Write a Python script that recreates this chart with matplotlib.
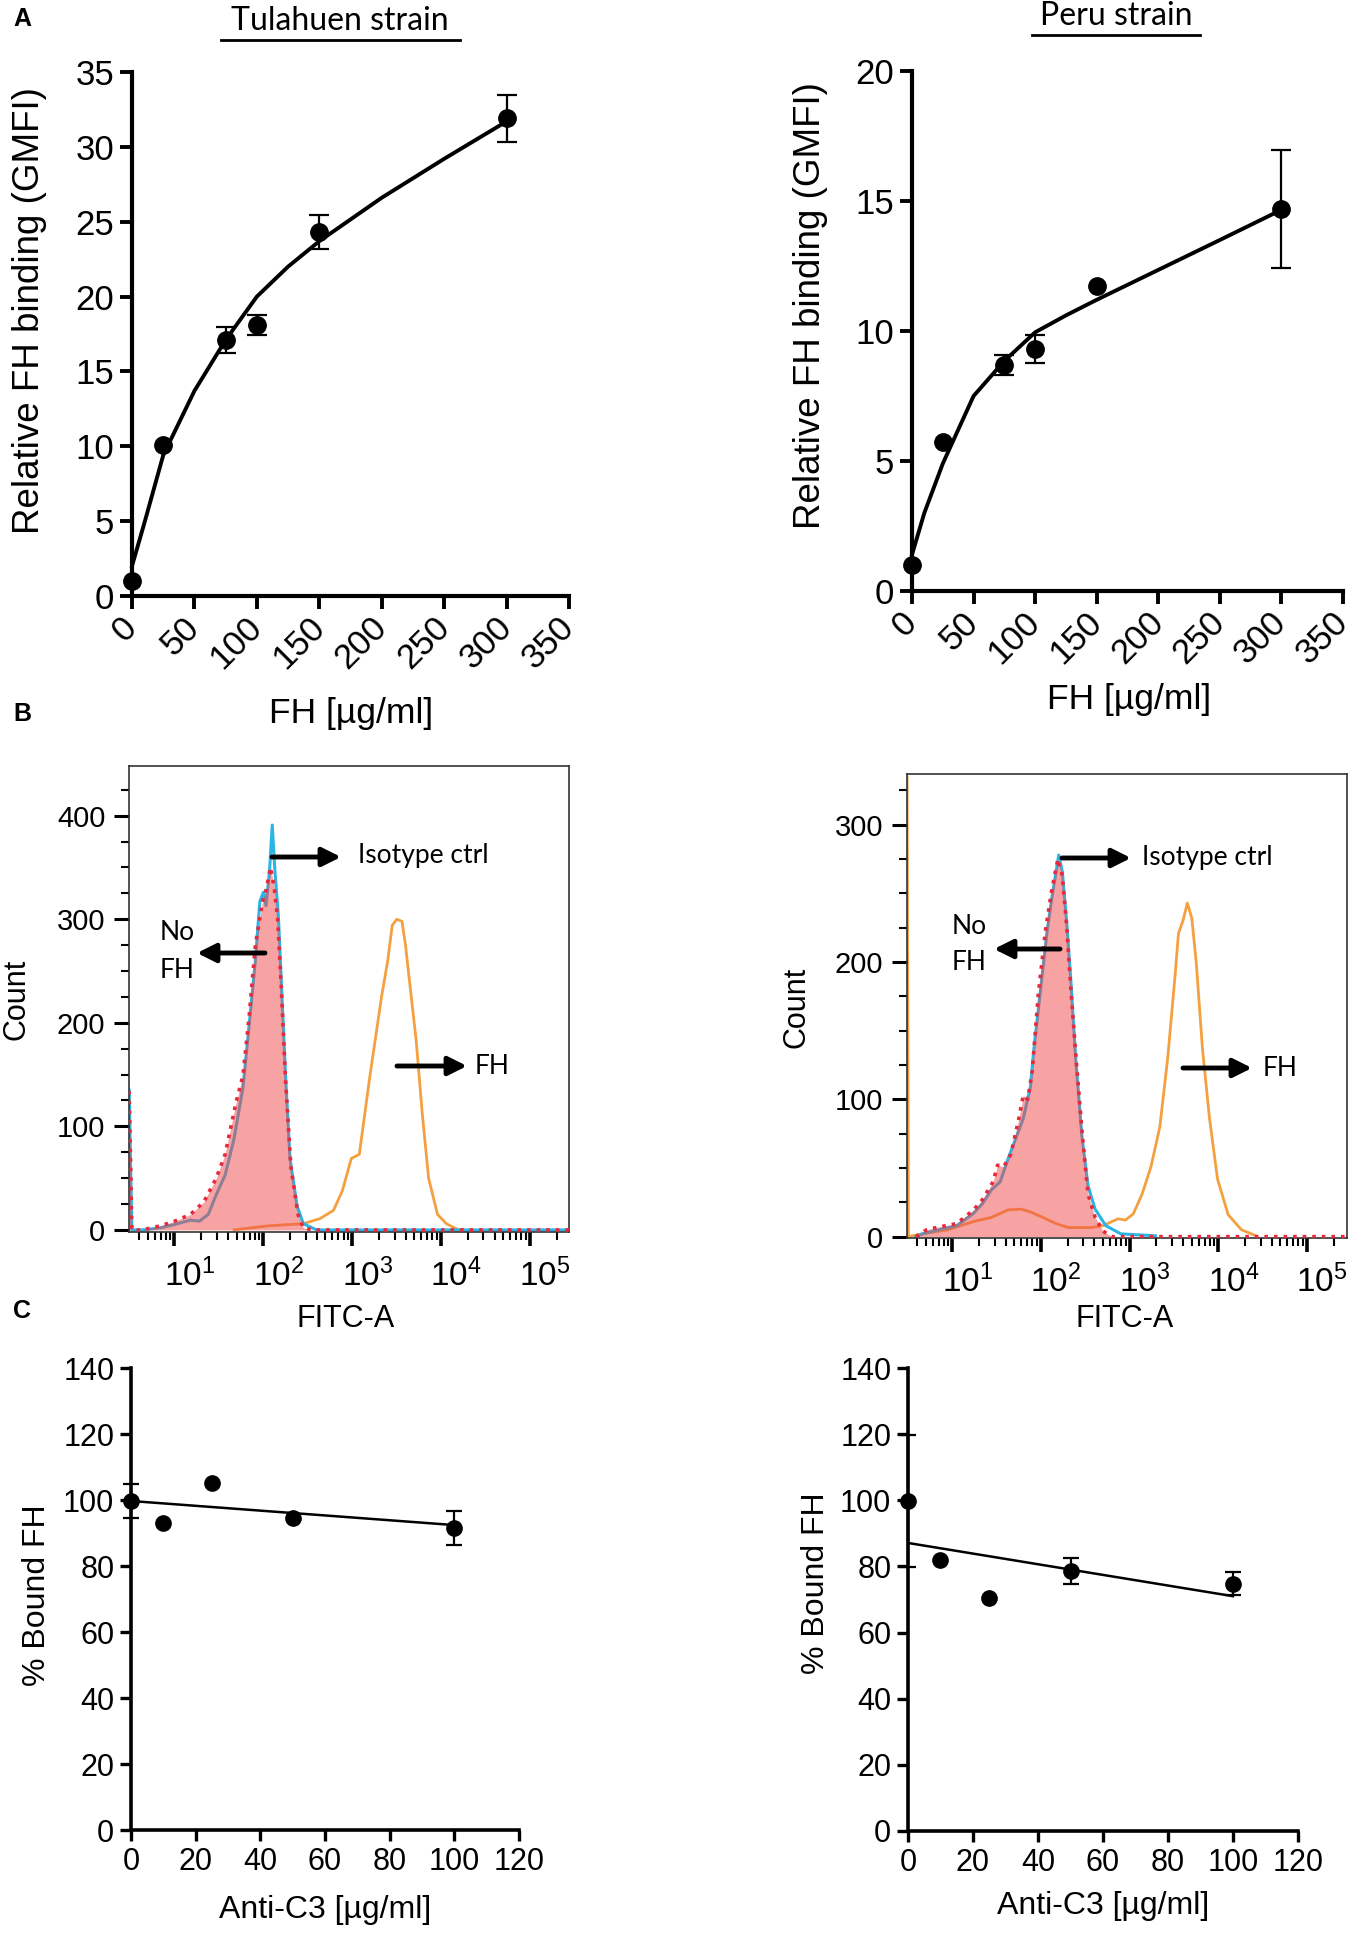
import matplotlib
matplotlib.use("Agg")
import matplotlib.pyplot as plt
from matplotlib.lines import Line2D
from matplotlib.ticker import LogLocator, MultipleLocator, NullFormatter
from matplotlib.transforms import ScaledTranslation
import numpy as np

plt.rcParams['font.family'] = ['Liberation Sans', 'DejaVu Sans']
plt.rcParams['mathtext.fontset'] = 'custom'
plt.rcParams['mathtext.rm'] = 'Liberation Sans'

W, H = 1358, 1937

# --- panel A: FH binding vs FH concentration ---
fh_conc = [0, 25, 75, 100, 150, 300]
tula_gmfi = [1.0, 10.1, 17.1, 18.1, 24.3, 31.9]
tula_gmfi_err = [0, 0, 0.85, 0.68, 1.15, 1.55]
peru_gmfi = [1.0, 5.75, 8.7, 9.3, 11.75, 14.7]
peru_gmfi_err = [0, 0, 0.38, 0.53, 0, 2.26]

fit_x = [0, 10, 25, 50, 75, 100, 125, 150, 200, 250, 300]
tula_fit = [2.0, 4.9, 9.4, 13.7, 17.1, 20.0, 22.0, 23.7, 26.6, 29.2, 31.7]
peru_fit = [1.4, 3.0, 4.9, 7.5, 8.85, 9.95, 10.6, 11.2, 12.35, 13.5, 14.66]

# --- panel B: flow cytometry histograms (log10 FITC-A, count) ---
tul_iso_lx = [0.49, 0.52, 0.64, 0.84, 0.99, 1.18, 1.28, 1.38, 1.47, 1.57, 1.67, 1.77,
              1.84, 1.91, 1.96, 2.00, 2.03, 2.07, 2.10, 2.13, 2.17, 2.20, 2.25, 2.30,
              2.38, 2.45, 2.60, 5.44]
tul_iso_count = [135, 0, 0, 2, 5, 9.5, 8.4, 15, 34, 53, 88, 137, 198, 260, 317, 326,
                 313, 347, 391, 347, 302, 244, 149, 69, 23, 6, 0, 0]
tul_nofh_lx = [0.49, 0.52, 0.64, 0.84, 0.99, 1.18, 1.33, 1.47, 1.57, 1.69, 1.77, 1.84,
               1.91, 1.99, 2.03, 2.08, 2.12, 2.16, 2.20, 2.25, 2.31, 2.39, 2.45, 2.55, 5.44]
tul_nofh_count = [134, 0, 0, 4, 8, 15, 27, 50, 73, 122, 149, 206, 275, 317, 328, 350,
                  332, 302, 237, 145, 61, 15, 2, 0, 0]
tul_fh_lx = [1.67, 2.06, 2.45, 2.64, 2.79, 2.89, 2.99, 3.08, 3.20, 3.33, 3.40, 3.45,
             3.50, 3.56, 3.60, 3.64, 3.72, 3.79, 3.86, 3.96, 4.06, 4.20]
tul_fh_count = [0, 4, 6, 11, 19, 38, 69, 73, 149, 225, 260, 294, 300, 298, 275, 244,
                183, 111, 50, 15, 6, 0]

peru_iso_lx = [0.59, 0.66, 0.85, 1.05, 1.24, 1.34, 1.44, 1.54, 1.63, 1.73, 1.80, 1.88,
               1.92, 2.00, 2.07, 2.12, 2.17, 2.20, 2.24, 2.29, 2.34, 2.39, 2.46, 2.53,
               2.61, 2.73, 2.90, 3.29]
peru_iso_count = [0, 2, 5, 8, 17, 24, 34, 40, 57, 74, 86, 109, 137, 183, 223, 246, 266,
                  278, 266, 229, 183, 131, 74, 37, 20, 8, 2, 0.6]
peru_nofh_lx = [0.59, 0.71, 0.85, 1.05, 1.24, 1.34, 1.46, 1.51, 1.58, 1.66, 1.75, 1.80,
                1.85, 1.90, 1.97, 2.05, 2.12, 2.19, 2.24, 2.29, 2.34, 2.40, 2.47, 2.53,
                2.61, 2.70, 2.80, 5.45]
peru_nofh_count = [0, 5, 7, 9.5, 19.5, 27, 40, 52, 51, 60, 86, 103, 100, 120, 177, 223,
                   252, 275, 263, 226, 177, 126, 71, 31, 14, 4, 0, 0]
peru_fh_lx = [0.49, 0.505, 0.66, 0.95, 1.24, 1.44, 1.63, 1.78, 1.88, 2.02, 2.17, 2.31,
              2.56, 2.70, 2.80, 2.87, 2.95, 3.04, 3.14, 3.24, 3.34, 3.43, 3.51, 3.55,
              3.60, 3.65, 3.70, 3.75, 3.82, 3.90, 3.99, 4.11, 4.26, 4.41]
peru_fh_count = [335, 0, 2, 5, 11, 14, 19.5, 20, 18, 14, 9.5, 6.6, 6.6, 8, 11, 13, 12,
                 16.5, 31, 51, 80, 131, 189, 221, 230, 243, 232, 200, 137, 86, 42, 16, 5, 1]
decade_labels = ['10', '10', '10', '10', '10']
decade_powers = ['1', '2', '3', '4', '5']

# --- panel C: bound FH vs anti-C3 ---
c3_conc = [0, 10, 25, 50, 100]
tula_bound = [99.7, 92.9, 105.1, 94.5, 91.6]
tula_bound_err = [5.2, 0, 0, 0, 5.2]
peru_bound = [99.8, 81.9, 70.6, 78.7, 74.8]
peru_bound_err = [20, 0, 0, 3.9, 3.5]
line_x = [0, 100]
tula_line = [99.7, 92.4]
peru_line = [87.1, 71.0]

fig = plt.figure(figsize=(W / 100, H / 100), dpi=100)


def px_axes(x0, y0, x1, y1):
    return fig.add_axes([x0 / W, 1 - y1 / H, (x1 - x0) / W, (y1 - y0) / H])


def ftext(x, y, s, **kw):
    fig.text(x / W, 1 - y / H, s, **kw)


def farrow(x0, y0, x1, y1):
    fig.add_artist(plt.Annotation('', xy=(x1 / W, 1 - y1 / H), xytext=(x0 / W, 1 - y0 / H),
                                  xycoords='figure fraction', textcoords='figure fraction',
                                  arrowprops=dict(arrowstyle='-|>', lw=3.5, color='k',
                                                  mutation_scale=28, shrinkA=0, shrinkB=0)))


def prism_axes(ax, spine_w, tick_len, tick_w, size):
    for s in ['top', 'right']:
        ax.spines[s].set_visible(False)
    for s in ['left', 'bottom']:
        ax.spines[s].set_linewidth(spine_w)
    ax.tick_params(direction='out', length=tick_len, width=tick_w, labelsize=size, pad=4)


def scatter_err(ax, x, y, err, ms, cap):
    ax.plot(x, y, 'o', color='k', ms=ms, clip_on=False, zorder=4)
    xe = [a for a, e in zip(x, err) if e > 0]
    ye = [b for b, e in zip(y, err) if e > 0]
    ee = [e for e in err if e > 0]
    ax.errorbar(xe, ye, yerr=ee, fmt='none', ecolor='k', elinewidth=1.6,
                capsize=cap, capthick=1.6, clip_on=False, zorder=3)


# Panel A
for (x0, y0, x1, y1), gmfi, err, fit, ymax in [
        ((132, 72, 569, 596), tula_gmfi, tula_gmfi_err, tula_fit, 35),
        ((912, 71, 1343, 591), peru_gmfi, peru_gmfi_err, peru_fit, 20)]:
    ax = px_axes(x0, y0, x1, y1)
    ax.plot(fit_x, fit, color='k', lw=2.8, clip_on=False, zorder=2)
    scatter_err(ax, fh_conc, gmfi, err, 12.5, 7)
    ax.set_xlim(0, 350)
    ax.set_ylim(0, ymax)
    ax.xaxis.set_major_locator(MultipleLocator(50))
    ax.yaxis.set_major_locator(MultipleLocator(5))
    prism_axes(ax, 3.0, 9, 2.8, 25)
    plt.setp(ax.get_xticklabels(), rotation=45, ha='right', va='center',
             rotation_mode='anchor')
    ax.tick_params(axis='x', pad=10)

ftext(30, 311, 'Relative FH binding (GMFI)', rotation=90, ha='center', va='center', fontsize=26.5)
ftext(810, 306, 'Relative FH binding (GMFI)', rotation=90, ha='center', va='center', fontsize=26.5)
ftext(351, 714, 'FH [µg/ml]', ha='center', va='center', fontsize=25.5)
ftext(1129, 699, 'FH [µg/ml]', ha='center', va='center', fontsize=25.5)

ftext(340, 21, 'Tulahuen strain', ha='center', va='center', fontsize=23, family='Lato')
ftext(1116, 16, 'Peru strain', ha='center', va='center', fontsize=23, family='Lato')
fig.add_artist(Line2D([221 / W, 460 / W], [1 - 40 / H] * 2, color='k', lw=2))
fig.add_artist(Line2D([1032 / W, 1200 / W], [1 - 35 / H] * 2, color='k', lw=2))

# Panel B
blue, red, orange = '#2BB5E5', '#E8283C', '#F5A040'
for (x0, y0, x1, y1), iso, nofh, fh, ylim, xr in [
        ((129, 766, 569, 1232), (tul_iso_lx, tul_iso_count), (tul_nofh_lx, tul_nofh_count),
         (tul_fh_lx, tul_fh_count), (-2, 448), (0.488, 5.44)),
        ((907, 774, 1347, 1238), (peru_iso_lx, peru_iso_count), (peru_nofh_lx, peru_nofh_count),
         (peru_fh_lx, peru_fh_count), (-1, 337), (0.489, 5.45))]:
    ax = px_axes(x0, y0, x1, y1)
    ax.set_xscale('log')
    ax.plot(10 ** np.array(fh[0]), fh[1], color=orange, lw=2, zorder=1)
    ax.plot(10 ** np.array(iso[0]), iso[1], color=blue, lw=2.2, zorder=1)
    ax.fill_between(10 ** np.array(nofh[0]), nofh[1], color='#F04848', alpha=0.5, lw=0, zorder=2)
    ax.plot(10 ** np.array(nofh[0]), nofh[1], color=red, lw=2.6, ls=':', zorder=3)
    ax.set_xlim(10 ** xr[0], 10 ** xr[1])
    ax.set_ylim(*ylim)
    for s in ax.spines.values():
        s.set_linewidth(1.2)
        s.set_color('#333333')
    ax.yaxis.set_major_locator(MultipleLocator(100))
    ax.yaxis.set_minor_locator(MultipleLocator(25))
    ax.xaxis.set_minor_locator(LogLocator(base=10, subs=np.arange(2, 10), numticks=10))
    ax.xaxis.set_minor_formatter(NullFormatter())
    ticks = [10.0 ** int(p) for p in decade_powers]
    ax.set_xticks(ticks)
    ax.set_xticklabels([r'$\mathregular{%s^{%s}}$' % (b, p)
                        for b, p in zip(decade_labels, decade_powers)])
    ax.tick_params(axis='y', which='major', direction='out', length=11, width=2.2,
                   labelsize=21, pad=6)
    ax.tick_params(axis='y', which='minor', direction='out', length=6, width=1.5)
    ax.tick_params(axis='x', which='major', direction='out', length=10, width=2.6,
                   labelsize=24, pad=9)
    ax.tick_params(axis='x', which='minor', direction='out', length=6, width=1.5)
    shift = ScaledTranslation(15 / 100, 0, fig.dpi_scale_trans)
    for lab in ax.get_xticklabels():
        lab.set_transform(lab.get_transform() + shift)

ftext(17, 999, 'Count', rotation=90, ha='center', va='center', fontsize=22)
ftext(797, 1007, 'Count', rotation=90, ha='center', va='center', fontsize=22)
ftext(346, 1319, 'FITC-A', ha='center', va='center', fontsize=22)
ftext(1125, 1319, 'FITC-A', ha='center', va='center', fontsize=22)

# annotations with arrows
ann_font = dict(fontsize=19, family='Lato', va='center')
farrow(272, 857, 341, 857)
ftext(358, 856, 'Isotype ctrl', ha='left', **ann_font)
farrow(265, 953, 197, 953)
ftext(160, 933, 'No', ha='left', **ann_font)
ftext(160, 971, 'FH', ha='left', **ann_font)
farrow(397, 1066, 467, 1066)
ftext(475, 1066, 'FH', ha='left', **ann_font)

farrow(1062, 858, 1131, 858)
ftext(1142, 858, 'Isotype ctrl', ha='left', **ann_font)
farrow(1060, 949, 994, 949)
ftext(952, 926, 'No', ha='left', **ann_font)
ftext(952, 963, 'FH', ha='left', **ann_font)
farrow(1183, 1068, 1252, 1068)
ftext(1263, 1068, 'FH', ha='left', **ann_font)

# Panel C
for (x0, y0, x1, y1), bound, err, line in [
        ((131, 1368, 519, 1830), tula_bound, tula_bound_err, tula_line),
        ((908, 1368, 1298, 1831), peru_bound, peru_bound_err, peru_line)]:
    ax = px_axes(x0, y0, x1, y1)
    ax.plot(line_x, line, color='k', lw=1.8, zorder=2)
    scatter_err(ax, c3_conc, bound, err, 11, 6)
    ax.set_xlim(0, 120)
    ax.set_ylim(0, 140)
    ax.xaxis.set_major_locator(MultipleLocator(20))
    ax.yaxis.set_major_locator(MultipleLocator(20))
    prism_axes(ax, 2.6, 8, 2.4, 22)

ftext(37, 1595, '% Bound FH', rotation=90, ha='center', va='center', fontsize=23)
ftext(816, 1583, '% Bound FH', rotation=90, ha='center', va='center', fontsize=23)
ftext(325, 1910, 'Anti-C3 [µg/ml]', ha='center', va='center', fontsize=23)
ftext(1103, 1906, 'Anti-C3 [µg/ml]', ha='center', va='center', fontsize=23)

# panel letters
for lbl, y in [('A', 19), ('B', 714), ('C', 1311)]:
    ftext(22, y, lbl, ha='center', va='center', fontsize=18, fontweight='bold')

fig.savefig('out.png', dpi=100)
